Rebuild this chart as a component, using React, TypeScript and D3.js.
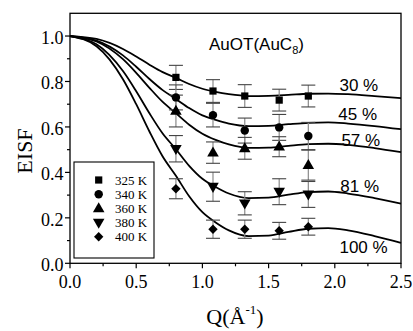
import React from "react";
import * as d3 from "d3";

// measured points (Q in 1/Å, EISF)
const temps = ["325 K", "340 K", "360 K", "380 K", "400 K"];
const qPoints = [0.8, 1.08, 1.32, 1.58, 1.8];
const eisf325 = [0.818, 0.758, 0.736, 0.718, 0.736];
const eisf340 = [0.73, 0.652, 0.584, 0.598, 0.56];
const eisf360 = [0.67, 0.487, 0.506, 0.513, 0.432];
const eisf380 = [0.504, 0.337, 0.264, 0.315, 0.303];
const eisf400 = [0.328, 0.15, 0.15, 0.143, 0.161];
const err325 = [0.053, 0.05, 0.05, 0.048, 0.048];
const err340 = [0.055, 0.052, 0.055, 0.057, 0.06];
const err360 = [0.07, 0.047, 0.048, 0.044, 0.066];
const err380 = [0.058, 0.064, 0.051, 0.057, 0.057];
const err400 = [0.044, 0.04, 0.04, 0.037, 0.037];

// fitted curves
const qFit = [0, 0.2, 0.4, 0.5, 0.6, 0.7, 0.8, 0.9, 1.0, 1.1, 1.2, 1.35, 1.5, 1.65, 1.8, 1.95, 2.1, 2.3, 2.5];
const fit30 = [1.0, 0.987, 0.943, 0.91, 0.874, 0.841, 0.816, 0.789, 0.768, 0.754, 0.744, 0.736, 0.737, 0.741, 0.746, 0.747, 0.744, 0.736, 0.727];
const fit45 = [1.0, 0.98, 0.915, 0.865, 0.811, 0.762, 0.723, 0.683, 0.651, 0.631, 0.615, 0.604, 0.605, 0.612, 0.618, 0.62, 0.615, 0.604, 0.59];
const fit57 = [1.0, 0.976, 0.898, 0.838, 0.772, 0.71, 0.66, 0.61, 0.57, 0.543, 0.523, 0.508, 0.509, 0.517, 0.524, 0.526, 0.521, 0.507, 0.489];
const fit81 = [1.0, 0.964, 0.846, 0.757, 0.66, 0.571, 0.502, 0.429, 0.372, 0.336, 0.307, 0.287, 0.289, 0.302, 0.313, 0.316, 0.307, 0.287, 0.263];
const fit100 = [1.0, 0.955, 0.81, 0.7, 0.58, 0.47, 0.385, 0.295, 0.225, 0.18, 0.145, 0.12, 0.122, 0.138, 0.152, 0.155, 0.145, 0.12, 0.09];

const percentLabels = ["30 %", "45 %", "57 %", "81 %", "100 %"];
const labelQ = [2.035, 2.027, 2.05, 2.042, 2.035];
const labelY = [0.759, 0.63, 0.516, 0.315, 0.044];

const xTicks = [0, 0.5, 1.0, 1.5, 2.0, 2.5];
const xMinor = [0.25, 0.75, 1.25, 1.75, 2.25];
const yTicks = [0, 0.2, 0.4, 0.6, 0.8, 1.0];
const yMinor = [0.1, 0.3, 0.5, 0.7, 0.9];

const serif = "'Liberation Serif', 'Times New Roman', serif";
const sans = "'Liberation Sans', Arial, sans-serif";

const W = 413;
const H = 331;
const left = 70, right = 401, top = 13.3, bottom = 263.3;

export default function App() {
  const x = d3.scaleLinear().domain([0, 2.5]).range([left, right]);
  const y = d3.scaleLinear().domain([0, 1.1]).range([bottom, top]);

  const series = [eisf325, eisf340, eisf360, eisf380, eisf400];
  const errors = [err325, err340, err360, err380, err400];
  const fits = [fit30, fit45, fit57, fit81, fit100];

  const sq = d3.symbol().type(d3.symbolSquare).size(52)() as string;
  const circ = d3.symbol().type(d3.symbolCircle).size(56)() as string;
  const tri = d3.symbol().type(d3.symbolTriangle).size(58)() as string;
  const dia = d3.symbol().type(d3.symbolSquare).size(44)() as string;
  const markers = [
    { d: sq, rot: 0, dy: 0 },
    { d: circ, rot: 0, dy: 0 },
    { d: tri, rot: 0, dy: 0.5 },
    { d: tri, rot: 180, dy: -0.5 },
    { d: dia, rot: 45, dy: 0 },
  ];

  const line = d3
    .line<number>()
    .x((_, i) => x(qFit[i]))
    .y((v) => y(v))
    .curve(d3.curveMonotoneX);

  return (
    <svg width={W} height={H} style={{ position: "absolute", left: 0, top: 0, background: "#fff" }}>
      {/* fits */}
      {fits.map((f, k) => (
        <path key={"f" + k} d={line(f) ?? ""} fill="none" stroke="#000" strokeWidth={1.8} />
      ))}

      {/* error bars */}
      {series.map((s, k) =>
        s.map((v, i) => {
          const cx = x(qPoints[i]);
          const e = errors[k][i];
          return (
            <g key={`e${k}-${i}`}>
              <line x1={cx} x2={cx} y1={y(v + e)} y2={y(v - e)} stroke="#8a8a8a" strokeWidth={1.2} />
              <line x1={cx - 7} x2={cx + 7} y1={y(v + e)} y2={y(v + e)} stroke="#444" strokeWidth={1.1} />
              <line x1={cx - 7} x2={cx + 7} y1={y(v - e)} y2={y(v - e)} stroke="#444" strokeWidth={1.1} />
            </g>
          );
        })
      )}

      {/* markers */}
      {series.map((s, k) =>
        s.map((v, i) => (
          <path
            key={`m${k}-${i}`}
            d={markers[k].d}
            transform={`translate(${x(qPoints[i])},${y(v) + markers[k].dy}) rotate(${markers[k].rot})`}
            fill="#000"
          />
        ))
      )}

      {/* percent labels */}
      {percentLabels.map((t, k) => (
        <text key={"p" + k} x={x(labelQ[k])} y={y(labelY[k])} fontFamily={sans} fontSize={17} fill="#000">
          {t}
        </text>
      ))}

      {/* title */}
      <text x={209} y={50} fontFamily={sans} fontSize={17} fill="#000">
        AuOT(AuC
        <tspan fontSize={11} dy={4}>8</tspan>
        <tspan dy={-4}>)</tspan>
      </text>

      {/* frame */}
      <rect x={left} y={top} width={right - left} height={bottom - top} fill="none" stroke="#000" strokeWidth={1.3} />

      {/* x axis ticks */}
      {xTicks.map((t) => (
        <g key={"xt" + t}>
          <line x1={x(t)} x2={x(t)} y1={bottom} y2={bottom + 5} stroke="#000" strokeWidth={1.2} />
          <text x={x(t)} y={288.3} textAnchor="middle" fontFamily={serif} fontSize={18} fill="#000">
            {t.toFixed(1)}
          </text>
        </g>
      ))}
      {xMinor.map((t) => (
        <line key={"xm" + t} x1={x(t)} x2={x(t)} y1={bottom} y2={bottom + 3} stroke="#000" strokeWidth={1.2} />
      ))}

      {/* y axis ticks */}
      {yTicks.map((t) => (
        <g key={"yt" + t}>
          <line x1={left - 5} x2={left} y1={y(t)} y2={y(t)} stroke="#000" strokeWidth={1.2} />
          <text x={63.5} y={y(t) + 8} textAnchor="end" fontFamily={serif} fontSize={18} fill="#000">
            {t.toFixed(1)}
          </text>
        </g>
      ))}
      {yMinor.map((t) => (
        <line key={"ym" + t} x1={left - 3} x2={left} y1={y(t)} y2={y(t)} stroke="#000" strokeWidth={1.2} />
      ))}

      {/* axis titles */}
      <text transform="translate(31.5,151) rotate(-90)" textAnchor="middle" fontFamily={serif} fontSize={22} fill="#000">
        EISF
      </text>
      <text x={235} y={324} textAnchor="middle" fontFamily={serif} fontSize={22} fill="#000">
        Q(Å
        <tspan fontSize={13} dy={-10}>-1</tspan>
        <tspan dy={10}>)</tspan>
      </text>

      {/* legend */}
      <rect x={74} y={162} width={80} height={96} fill="#fff" stroke="#000" strokeWidth={1.1} />
      {temps.map((t, k) => {
        const ry = 180 + k * 14.2;
        return (
          <g key={"l" + k}>
            <path d={markers[k].d} transform={`translate(98.7,${ry + markers[k].dy}) rotate(${markers[k].rot})`} fill="#000" />
            <text x={115} y={ry + 4.5} fontFamily={serif} fontSize={13} fill="#000">
              {t}
            </text>
          </g>
        );
      })}
    </svg>
  );
}
